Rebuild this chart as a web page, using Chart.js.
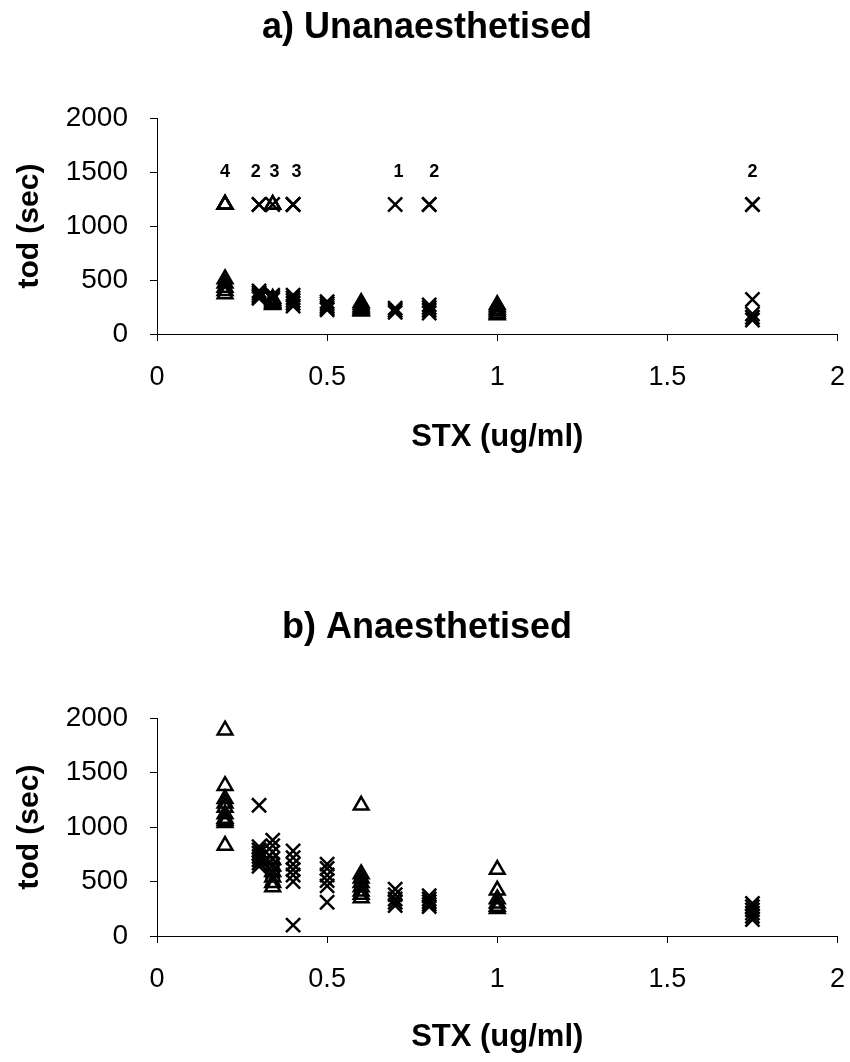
<!DOCTYPE html>
<html>
<head>
<meta charset="utf-8">
<script src="https://cdn.jsdelivr.net/npm/chart.js@4/dist/chart.umd.min.js"></script>
<style>
  body { margin: 0; background: #fff; }
  canvas { position: absolute; left: 0; }
  #chartA { top: 0; }
  #chartB { top: 600px; }
</style>
</head>
<body>
<canvas id="chartA" width="850" height="462"></canvas>
<canvas id="chartB" width="850" height="462"></canvas>
<script>
// a) Unanaesthetised - 1200 s is the cut-off (counts shown above)
const aTriX = [0.2,0.2,0.2,0.2,0.2,0.2,0.2,0.2,0.2, 0.34,0.34,0.34,0.34,0.34,0.34,0.34,
               0.6,0.6,0.6,0.6,0.6,0.6, 1,1,1,1,1,1];
const aTriY = [1200,1200,1200,1200,510,470,430,400,370, 1200,1200,330,310,295,280,270,
               290,270,250,235,220,210, 270,250,230,210,190,175];
const aCrossX = [0.3,0.3,0.3,0.3,0.3,0.3,0.3, 0.34,0.34,0.34,0.34, 0.4,0.4,0.4,0.4,0.4,0.4,0.4,0.4,
                 0.5,0.5,0.5,0.5,0.5, 0.7,0.7,0.7,0.7, 0.8,0.8,0.8,0.8,0.8,0.8, 1.75,1.75,1.75,1.75,1.75,1.75];
const aCrossY = [1200,1200,400,380,360,345,330, 1200,360,340,320, 1200,1200,1200,360,335,310,285,260,
                 300,280,260,240,225, 1200,240,220,200, 1200,1200,270,245,220,195, 1200,1200,320,185,155,130];
const aCountX = [0.2, 0.29, 0.345, 0.41, 0.71, 0.815, 1.75];
const aCountText = ['4', '2', '3', '3', '1', '2', '2'];

// b) Anaesthetised
const bTriX = [0.2,0.2,0.2,0.2,0.2,0.2,0.2,0.2,0.2,0.2, 0.34,0.34,0.34,0.34,0.34,0.34,
               0.6,0.6,0.6,0.6,0.6,0.6,0.6,0.6, 1,1,1,1,1,1];
const bTriY = [1890,1380,1260,1220,1180,1120,1080,1060,1040,830, 700,640,590,540,490,450,
               1200,570,530,490,450,410,380,350, 610,420,340,300,270,250];
const bCrossX = [0.3,0.3,0.3,0.3,0.3,0.3,0.3,0.3, 0.34,0.34,0.34,0.34,0.34,0.34,0.34,
                 0.4,0.4,0.4,0.4,0.4,0.4,0.4, 0.5,0.5,0.5,0.5,0.5,0.5, 0.7,0.7,0.7,0.7,0.7,
                 0.8,0.8,0.8,0.8,0.8, 1.75,1.75,1.75,1.75,1.75,1.75];
const bCrossY = [1200,820,790,760,730,700,670,640, 880,830,770,710,650,590,530,
                 780,720,660,610,560,500,100, 660,620,560,510,460,310, 430,380,340,310,280,
                 370,340,315,290,270, 300,270,240,210,180,150];

const countLevel = 1500;
const xTicks = [0, 0.5, 1, 1.5, 2];
const yTicks = [0, 500, 1000, 1500, 2000];

const FONT = 'Liberation Sans, Arial, sans-serif';

function pts(xs, ys) {
  return xs.map((x, i) => ({ x: x, y: ys[i] }));
}

// draws the "n survived" counts above the cut-off points
const countLabels = {
  id: 'countLabels',
  afterDatasetsDraw(chart, args, opts) {
    if (!opts.xs) return;
    const ctx = chart.ctx;
    ctx.save();
    ctx.font = 'bold 18px ' + FONT;
    ctx.fillStyle = '#000';
    ctx.textAlign = 'center';
    ctx.textBaseline = 'middle';
    opts.xs.forEach((x, i) => {
      ctx.fillText(opts.texts[i], chart.scales.x.getPixelForValue(x), chart.scales.y.getPixelForValue(countLevel));
    });
    ctx.restore();
  }
};

function makeChart(id, title, triX, triY, crossX, crossY, counts, xAxisHeight) {
  return new Chart(document.getElementById(id), {
    type: 'scatter',
    data: {
      datasets: [
        { label: 'triangle', data: pts(triX, triY), pointStyle: 'triangle', pointRadius: 8.5,
          borderColor: '#000', backgroundColor: 'rgba(0,0,0,0)', borderWidth: 2.5 },
        { label: 'cross', data: pts(crossX, crossY), pointStyle: 'crossRot', pointRadius: 10,
          borderColor: '#000', backgroundColor: '#000', borderWidth: 2.5 }
      ]
    },
    options: {
      responsive: false,
      animation: false,
      layout: { padding: { left: 4, right: 0 } },
      plugins: {
        legend: { display: false },
        tooltip: { enabled: false },
        title: { display: true, text: title, color: '#000', font: { family: FONT, size: 36, weight: 'bold' },
                 padding: { top: 6, bottom: 69 } },
        countLabels: counts || {}
      },
      scales: {
        x: {
          type: 'linear', min: 0, max: 2,
          afterBuildTicks: s => { s.ticks = xTicks.map(v => ({ value: v })); },
          afterFit: s => { s.height = xAxisHeight; s.paddingLeft = 0; s.paddingRight = 12; },
          border: { color: '#000', width: 1 },
          grid: { drawOnChartArea: false, drawTicks: true, tickLength: 7, color: '#000' },
          ticks: { color: '#000', font: { family: FONT, size: 27 }, padding: 20, maxRotation: 0,
                   callback: v => String(v) },
          title: { display: true, text: 'STX (ug/ml)', color: '#000', font: { family: FONT, size: 31, weight: 'bold' },
                   padding: { bottom: 6 } }
        },
        y: {
          min: 0, max: 2000,
          afterBuildTicks: s => { s.ticks = yTicks.map(v => ({ value: v })); },
          afterFit: s => { s.width = 153; },
          border: { color: '#000', width: 1 },
          grid: { drawOnChartArea: false, drawTicks: true, tickLength: 7, color: '#000' },
          ticks: { color: '#000', font: { family: FONT, size: 28 }, padding: 22, callback: v => String(v) },
          title: { display: true, text: 'tod (sec)', color: '#000', font: { family: FONT, size: 30, weight: 'bold' },
                   padding: { top: 8 } }
        }
      }
    },
    plugins: [countLabels]
  });
}

makeChart('chartA', 'a) Unanaesthetised', aTriX, aTriY, aCrossX, aCrossY, { xs: aCountX, texts: aCountText }, 128);
makeChart('chartB', 'b) Anaesthetised', bTriX, bTriY, bCrossX, bCrossY, null, 126);
</script>
</body>
</html>
